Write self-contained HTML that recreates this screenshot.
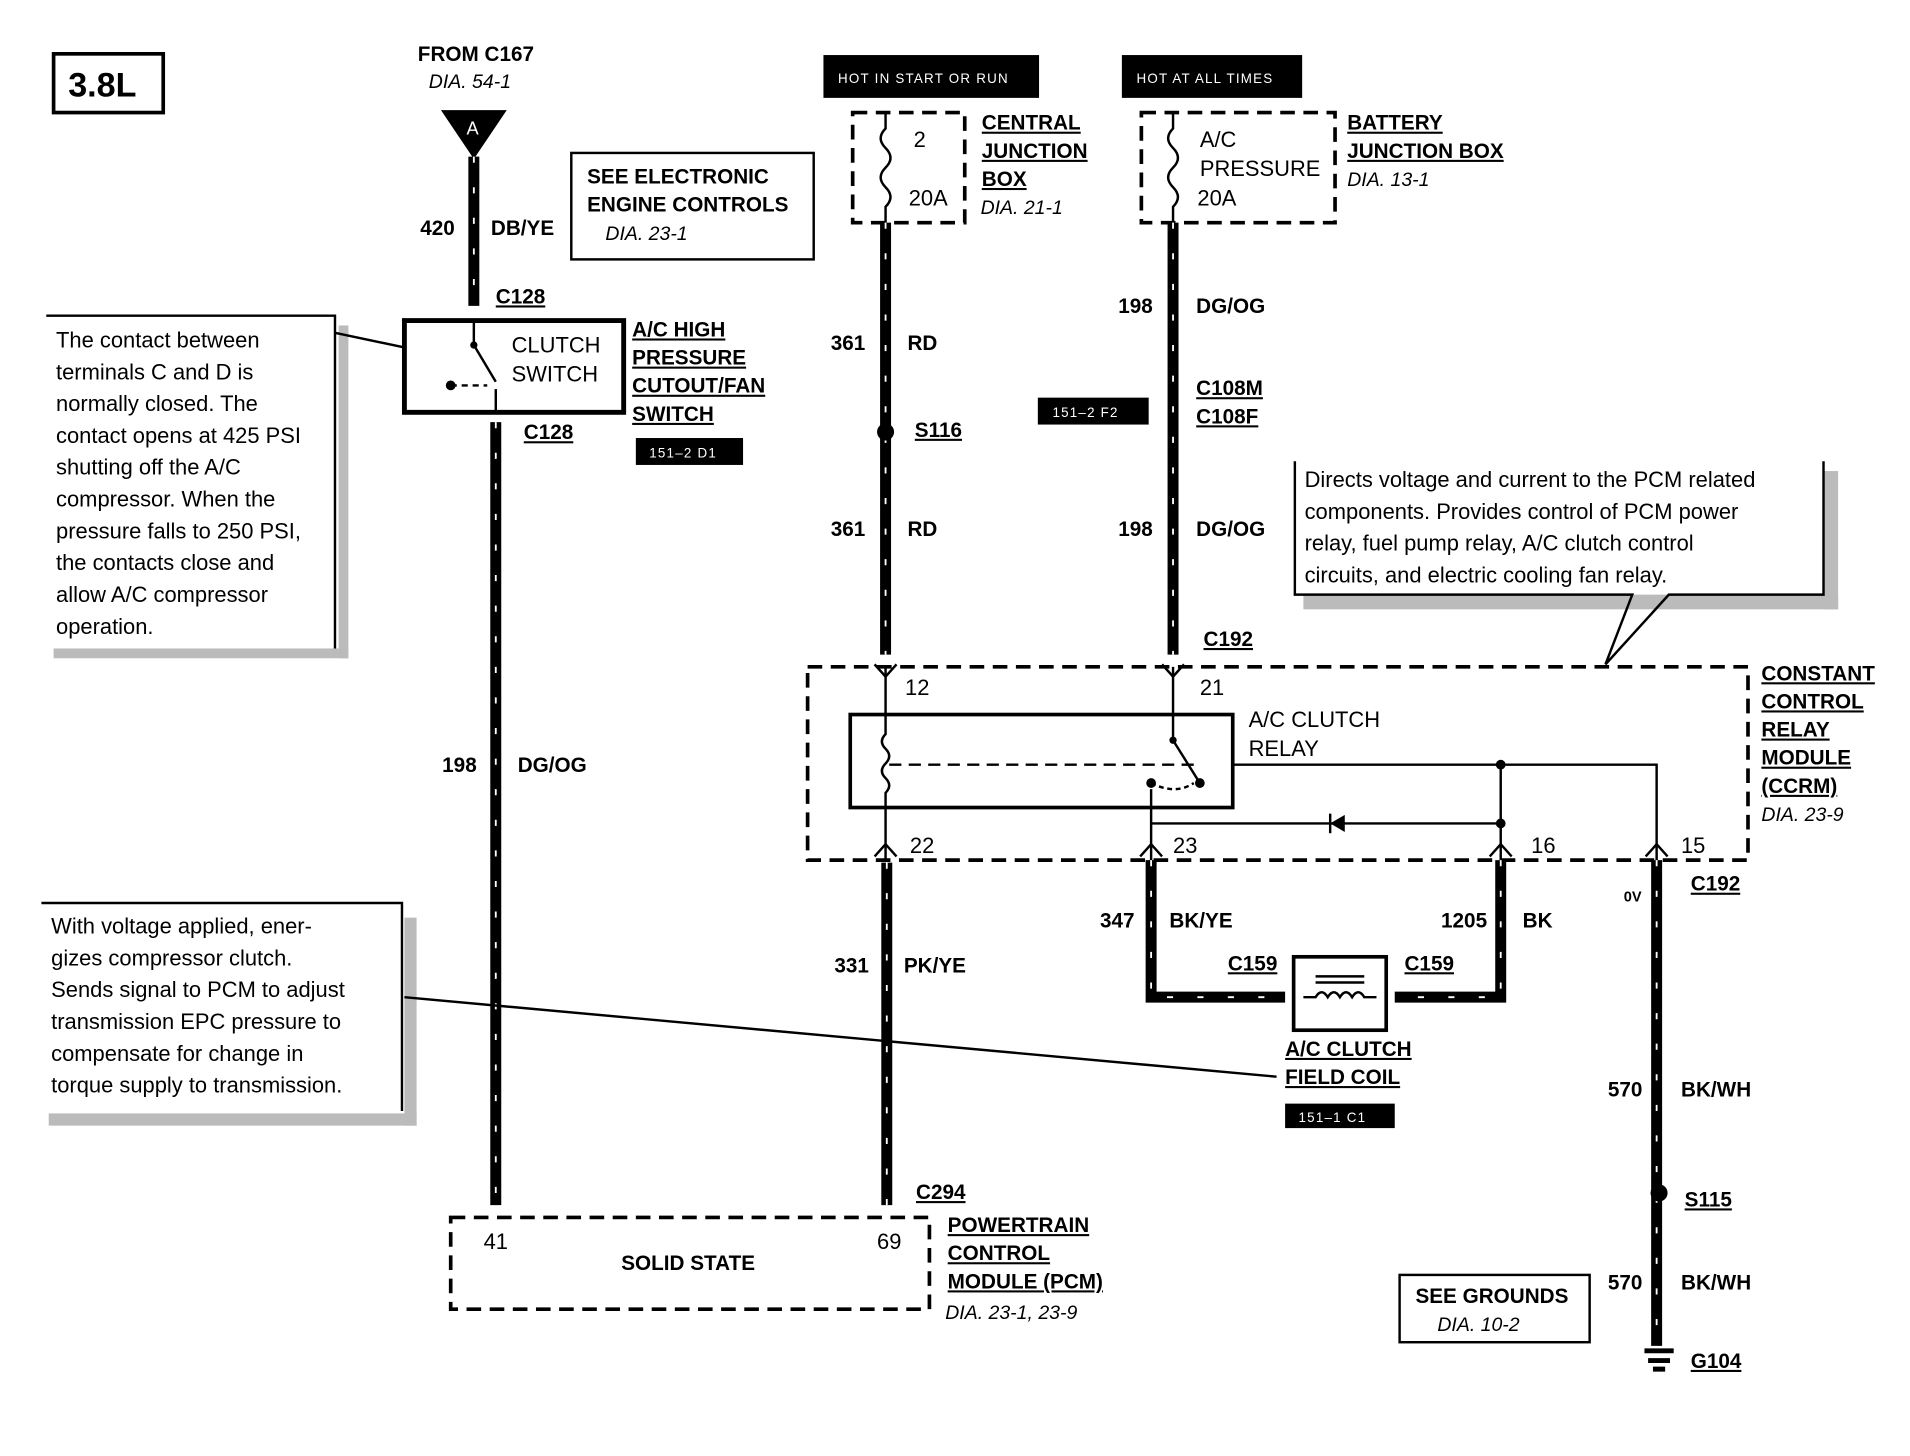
<!DOCTYPE html>
<html><head><meta charset="utf-8">
<style>
html,body{margin:0;padding:0;background:#fff;}
svg{display:block;}
text{font-family:"Liberation Sans",sans-serif;fill:#000;}
.b{font-weight:bold;font-size:17px;}
.n{font-size:18px;}
.i{font-style:italic;font-size:16px;}
.u{text-decoration:underline;}
.w{stroke:#000;stroke-width:9;fill:none;}
.t{stroke:#fff;stroke-width:1.5;stroke-dasharray:5 20;fill:none;}
.d{stroke:#000;stroke-width:3;stroke-dasharray:12 7;fill:none;}
.l{stroke:#000;stroke-width:2;fill:none;}
.wt{fill:#fff;font-size:11px;letter-spacing:1px;}
</style></head><body>
<svg width="1910" height="1456" viewBox="0 0 1568 1190" preserveAspectRatio="none" xmlns="http://www.w3.org/2000/svg">
<rect x="44" y="44" width="90" height="48" fill="none" stroke="#000" stroke-width="3"/>
<text x="56" y="79" style="font-weight:bold;font-size:28px">3.8L</text>

<text x="343" y="50" class="b">FROM C167</text>
<text x="352" y="72" class="i">DIA. 54-1</text>
<polygon points="362,90 416,90 389,130" fill="#000"/>
<text x="383" y="110" style="fill:#fff;font-size:15px">A</text>
<path class="w" d="M389 128 V250"/><path class="t" d="M389 128 V250"/>
<text x="345" y="192" class="b">420</text><text x="403" y="192" class="b">DB/YE</text>
<text x="407" y="248" class="b u">C128</text>

<rect x="332" y="262" width="180" height="75" fill="none" stroke="#000" stroke-width="4"/>
<text x="420" y="288" class="n">CLUTCH</text><text x="420" y="312" class="n">SWITCH</text>
<path class="l" d="M389 262 V282 L407 312"/><circle cx="389" cy="282" r="3"/>
<path class="l" d="M370 315 H400" stroke-dasharray="5 4"/><circle cx="370" cy="315" r="4"/>
<path class="l" d="M407 318 V337"/>
<text x="519" y="275" class="b u">A/C HIGH</text>
<text x="519" y="298" class="b u">PRESSURE</text>
<text x="519" y="321" class="b u">CUTOUT/FAN</text>
<text x="519" y="344" class="b u">SWITCH</text>
<rect x="522" y="358" width="88" height="22" fill="#000"/><text x="533" y="374" class="wt">151–2 D1</text>
<text x="430" y="359" class="b u">C128</text>
<path class="w" d="M407 345 V985"/><path class="t" d="M407 345 V985"/>
<text x="363" y="631" class="b">198</text><text x="425" y="631" class="b">DG/OG</text>

<rect x="278" y="266" width="8" height="272" fill="#bbb"/><rect x="44" y="530" width="242" height="8" fill="#bbb"/>
<path class="l" stroke-width="1" d="M38 258 H275 V530"/>
<path class="l" stroke-width="1" d="M275 272 L332 284"/>
<text class="n"><tspan x="46" y="284">The contact between</tspan><tspan x="46" y="310">terminals C and D is</tspan><tspan x="46" y="336">normally closed. The</tspan><tspan x="46" y="362">contact opens at 425 PSI</tspan><tspan x="46" y="388">shutting off the A/C</tspan><tspan x="46" y="414">compressor. When the</tspan><tspan x="46" y="440">pressure falls to 250 PSI,</tspan><tspan x="46" y="466">the contacts close and</tspan><tspan x="46" y="492">allow A/C compressor</tspan><tspan x="46" y="518">operation.</tspan></text>

<rect x="332" y="750" width="10" height="170" fill="#bbb"/><rect x="40" y="910" width="302" height="10" fill="#bbb"/>
<path class="l" stroke-width="1" d="M34 738 H330 V908"/>
<text class="n"><tspan x="42" y="763">With voltage applied, ener-</tspan><tspan x="42" y="789">gizes compressor clutch.</tspan><tspan x="42" y="815">Sends signal to PCM to adjust</tspan><tspan x="42" y="841">transmission EPC pressure to</tspan><tspan x="42" y="867">compensate for change in</tspan><tspan x="42" y="893">torque supply to transmission.</tspan></text>
<path class="l" stroke-width="1" d="M332 815 L1048 880"/>

<rect x="469" y="125" width="199" height="87" fill="none" stroke="#000" stroke-width="2"/>
<text x="482" y="150" class="b">SEE ELECTRONIC</text><text x="482" y="173" class="b">ENGINE CONTROLS</text>
<text x="497" y="196" class="i">DIA. 23-1</text>

<rect x="370" y="995" width="393" height="75" class="d"/>
<text x="397" y="1021" class="n">41</text><text x="720" y="1021" class="n">69</text>
<text x="510" y="1038" class="b">SOLID STATE</text>
<text x="752" y="980" class="b u">C294</text>
<text x="778" y="1007" class="b u">POWERTRAIN</text><text x="778" y="1030" class="b u">CONTROL</text><text x="778" y="1053" class="b u">MODULE (PCM)</text>
<text x="776" y="1078" class="i">DIA. 23-1, 23-9</text>
<path class="w" d="M728 705 V985"/><path class="t" d="M728 705 V985"/>
<text x="685" y="795" class="b">331</text><text x="742" y="795" class="b">PK/YE</text>

<rect x="676" y="45" width="177" height="35" fill="#000"/><text x="688" y="68" class="wt">HOT IN START OR RUN</text>
<rect x="921" y="45" width="148" height="35" fill="#000"/><text x="933" y="68" class="wt">HOT AT ALL TIMES</text>

<rect x="700" y="92" width="92" height="90" class="d"/>
<path class="l" d="M727 92 V105 q-8 8 0 16 q8 8 0 16 q-8 8 0 16 q8 8 0 16 V182"/>
<text x="750" y="120" class="n">2</text><text x="746" y="168" class="n">20A</text>
<text x="806" y="106" class="b u">CENTRAL</text><text x="806" y="129" class="b u">JUNCTION</text><text x="806" y="152" class="b u">BOX</text>
<text x="805" y="175" class="i">DIA. 21-1</text>
<path class="w" d="M727 182 V535"/><path class="t" d="M727 182 V535"/>
<circle cx="727" cy="353" r="7"/><text x="751" y="357" class="b u">S116</text>
<text x="682" y="286" class="b">361</text><text x="745" y="286" class="b">RD</text>
<text x="682" y="438" class="b">361</text><text x="745" y="438" class="b">RD</text>

<rect x="937" y="92" width="159" height="90" class="d"/>
<path class="l" d="M963 92 V105 q-8 8 0 16 q8 8 0 16 q-8 8 0 16 q8 8 0 16 V182"/>
<text x="985" y="120" class="n">A/C</text><text x="985" y="144" class="n">PRESSURE</text><text x="983" y="168" class="n">20A</text>
<text x="1106" y="106" class="b u">BATTERY</text><text x="1106" y="129" class="b u">JUNCTION BOX</text>
<text x="1106" y="152" class="i">DIA. 13-1</text>
<path class="w" d="M963 182 V535"/><path class="t" d="M963 182 V535"/>
<text x="918" y="256" class="b">198</text><text x="982" y="256" class="b">DG/OG</text>
<text x="982" y="323" class="b u">C108M</text><text x="982" y="346" class="b u">C108F</text>
<rect x="852" y="325" width="91" height="22" fill="#000"/><text x="864" y="341" class="wt">151–2 F2</text>
<text x="918" y="438" class="b">198</text><text x="982" y="438" class="b">DG/OG</text>
<text x="988" y="528" class="b u">C192</text>

<rect x="1497" y="385" width="12" height="113" fill="#bbb"/><rect x="1070" y="486" width="439" height="12" fill="#bbb"/>
<path class="l" stroke-width="1" d="M1063 377 V486 H1340 L1318 543 L1370 486 H1497 V377"/>
<text class="n"><tspan x="1071" y="398">Directs voltage and current to the PCM related</tspan><tspan x="1071" y="424">components. Provides control of PCM power</tspan><tspan x="1071" y="450">relay, fuel pump relay, A/C clutch control</tspan><tspan x="1071" y="476">circuits, and electric cooling fan relay.</tspan></text>

<rect x="663" y="545" width="772" height="158" class="d"/>
<text x="1446" y="556" class="b u">CONSTANT</text><text x="1446" y="579" class="b u">CONTROL</text><text x="1446" y="602" class="b u">RELAY</text><text x="1446" y="625" class="b u">MODULE</text><text x="1446" y="648" class="b u">(CCRM)</text>
<text x="1446" y="671" class="i">DIA. 23-9</text>
<text x="743" y="568" class="n">12</text><text x="985" y="568" class="n">21</text>
<text x="747" y="697" class="n">22</text><text x="963" y="697" class="n">23</text><text x="1257" y="697" class="n">16</text><text x="1380" y="697" class="n">15</text>
<rect x="698" y="584" width="314" height="76" fill="none" stroke="#000" stroke-width="3"/>
<path class="l" d="M727 545 V600 q-6 6 0 12 q6 6 0 12 q-6 6 0 12 q6 6 0 12 V703"/>
<path class="l" d="M963 545 V605 L985 640"/><circle cx="963" cy="605" r="3"/><circle cx="985" cy="640" r="4"/>
<path class="l" d="M945 640 q20 10 35 0" stroke-dasharray="4 3"/><circle cx="945" cy="640" r="4"/>
<path class="l" d="M730 625 H980" stroke-dasharray="10 6"/>
<text x="1025" y="594" class="n">A/C CLUTCH</text><text x="1025" y="618" class="n">RELAY</text>
<path class="l" d="M1012 625 H1360 V703 M1232 625 V703 M945 645 V703 M945 673 H1232"/>
<circle cx="1232" cy="625" r="4"/><circle cx="1232" cy="673" r="4"/>
<polygon points="1092,673 1104,666 1104,680" fill="#000"/><path class="l" d="M1092 665 V681"/>
<g class="l"><path d="M718 543 L727 553 L736 543"/><path d="M954 543 L963 553 L972 543"/>
<path d="M718 700 L727 690 L736 700"/><path d="M936 700 L945 690 L954 700"/><path d="M1223 700 L1232 690 L1241 700"/><path d="M1351 700 L1360 690 L1369 700"/></g>

<path class="w" d="M945 703 V815 H1055"/><path class="t" d="M945 703 V815 H1055"/>
<path class="w" d="M1232 703 V815 H1145"/><path class="t" d="M1232 703 V815 H1145"/>
<text x="903" y="758" class="b">347</text><text x="960" y="758" class="b">BK/YE</text>
<text x="1183" y="758" class="b">1205</text><text x="1250" y="758" class="b">BK</text>
<text x="1008" y="793" class="b u">C159</text><text x="1153" y="793" class="b u">C159</text>
<rect x="1062" y="782" width="76" height="60" fill="none" stroke="#000" stroke-width="3"/>
<path class="l" d="M1080 798 H1120 M1080 803 H1120 M1070 815 H1080 q5 -8 10 0 q5 -8 10 0 q5 -8 10 0 q5 -8 10 0 H1130"/>
<text x="1055" y="863" class="b u">A/C CLUTCH</text><text x="1055" y="886" class="b u">FIELD COIL</text>
<rect x="1055" y="902" width="90" height="20" fill="#000"/><text x="1066" y="917" class="wt">151–1 C1</text>
<path class="w" d="M1360 703 V1100"/><path class="t" d="M1360 703 V1100"/>
<text x="1333" y="737" style="font-size:12px;font-weight:bold">0V</text>
<text x="1388" y="728" class="b u">C192</text>
<text x="1320" y="896" class="b">570</text><text x="1380" y="896" class="b">BK/WH</text>
<circle cx="1362" cy="975" r="7"/><text x="1383" y="986" class="b u">S115</text>
<text x="1320" y="1054" class="b">570</text><text x="1380" y="1054" class="b">BK/WH</text>
<path d="M1350 1104 H1374 M1353 1112 H1371 M1357 1119 H1367" stroke="#000" stroke-width="4"/>
<text x="1388" y="1118" class="b u">G104</text>
<rect x="1149" y="1042" width="156" height="55" fill="none" stroke="#000" stroke-width="2"/>
<text x="1162" y="1065" class="b">SEE GROUNDS</text><text x="1180" y="1088" class="i">DIA. 10-2</text>
</svg>
</body></html>
